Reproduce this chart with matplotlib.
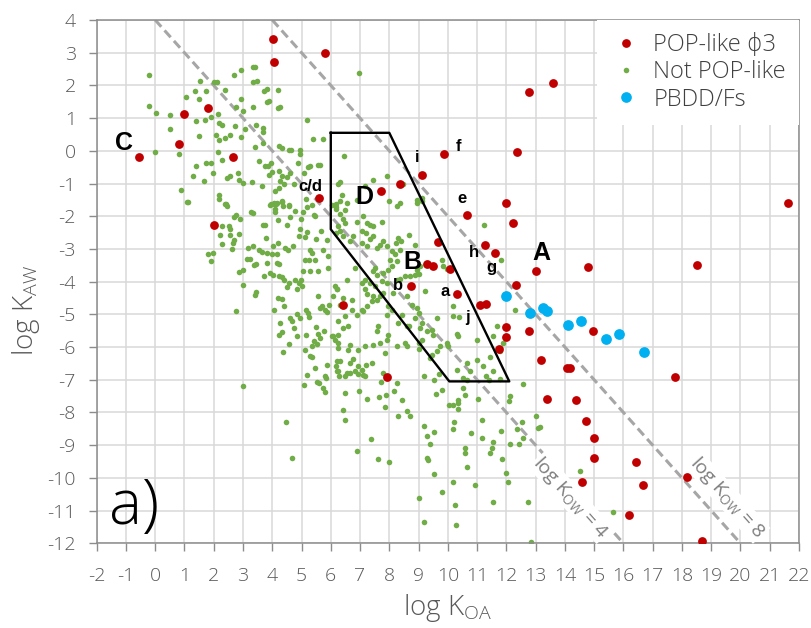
import numpy as np
import matplotlib
matplotlib.use('Agg')
import matplotlib.pyplot as plt
from matplotlib.lines import Line2D

plt.rcParams['font.family'] = ['Open Sans', 'DejaVu Sans']
plt.rcParams['mathtext.fontset'] = 'custom'
plt.rcParams['mathtext.rm'] = 'Open Sans'
plt.rcParams['axes.unicode_minus'] = False

# log KOA, log KAW pairs
not_pop = [
    (-0.22, 2.32), (-0.22, 1.38), (0.04, 1.17), (0.52, 1.08), (0.49, 0.66), (-0.01, -0.03), (0.81, -0.10),
    (1.49, 0.45), (1.04, 1.65), (1.36, 1.83), (1.53, 2.13), (1.50, 1.57), (1.75, 1.83), (1.38, 0.91),
    (1.69, 0.94), (1.92, 1.02), (2.16, 1.12), (2.19, 0.86), (2.28, 0.79), (2.08, 0.47), (2.19, 0.33),
    (2.37, 0.40), (2.56, 0.48), (2.73, 0.76), (2.93, 0.42), (3.08, 0.68), (2.40, 1.86), (2.00, 2.11),
    (2.10, 2.10), (2.69, 2.32), (2.93, 2.47), (3.35, 2.57), (3.42, 2.57), (3.34, 2.10), (3.47, 2.13),
    (3.71, 1.84), (3.81, 1.89), (4.18, 1.86), (3.83, 1.50), (3.89, 1.52), (2.93, 1.59), (2.75, 1.35),
    (3.01, 1.22), (3.34, 1.35), (3.43, 0.79), (3.69, 0.70), (3.67, 0.58), (3.67, 0.24), (3.40, 0.12),
    (4.18, 1.30), (4.28, 1.34), (5.18, 0.94), (5.38, 0.37), (5.74, 0.37), (2.16, -0.03), (2.27, -0.28),
    (1.74, -0.37), (1.90, -0.37), (1.39, -0.47), (1.30, -0.77), (1.67, -0.92), (1.97, -0.69), (2.44, -0.84),
    (2.57, -0.77), (2.83, -0.69), (2.85, -0.88), (3.00, -0.97), (3.31, -0.95), (3.64, -1.07), (3.55, -0.31),
    (3.75, -0.46), (3.87, -0.47), (3.95, -0.37), (3.99, -0.64), (3.90, -0.73), (4.22, -0.63), (4.33, 0.10),
    (4.24, 0.16), (4.57, 0.02), (4.64, 0.02), (4.96, 0.02), (4.94, -0.10), (4.35, -0.77), (4.49, -0.80),
    (4.27, -0.93), (4.41, -1.00), (4.61, -0.69), (4.89, -0.37), (5.21, -0.49), (5.29, -0.47), (5.55, -0.42),
    (5.63, -0.42), (5.07, -0.69), (4.74, -1.00), (4.24, -1.13), (4.09, -1.22), (0.87, -1.20), (1.11, -1.58),
    (2.19, -1.34), (2.19, -1.46), (2.42, -1.64), (3.93, -1.66), (4.07, -1.64), (4.17, -1.61), (4.35, -1.54),
    (4.58, -1.69), (5.15, -1.46), (5.37, -1.66), (6.03, -1.66), (6.26, -1.00),
    (1.10, -1.57), (2.38, -1.64), (2.44, -1.69), (2.75, -1.95), (2.70, -2.02), (2.89, -2.10), (2.28, -2.31),
    (2.51, -2.31), (2.54, -2.39), (2.21, -2.56), (2.57, -2.56), (2.86, -2.54), (2.70, -2.73), (2.67, -2.82),
    (2.29, -2.85), (2.62, -3.00), (1.82, -3.17), (1.97, -3.13), (1.90, -3.36), (3.27, -1.88), (3.34, -1.90),
    (3.67, -2.26), (3.74, -2.27), (3.80, -2.68), (4.02, -2.92), (4.19, -2.82), (3.96, -1.64), (4.05, -1.59),
    (4.14, -1.64), (4.09, -1.78), (4.10, -1.88), (4.32, -1.57), (4.38, -1.69), (4.57, -1.67), (4.61, -2.02),
    (4.49, -2.26), (4.21, -2.12), (4.77, -1.83), (5.04, -1.87), (5.20, -1.71), (5.43, -1.95), (5.47, -1.98),
    (4.97, -2.07), (4.94, -2.39), (4.93, -2.59), (5.19, -2.47), (5.12, -2.63), (4.44, -2.97), (4.53, -3.04),
    (4.72, -2.92), (5.29, -3.04), (5.35, -3.12), (5.12, -3.33), (5.27, -3.35), (5.46, -3.33), (5.65, -2.46),
    (5.88, -2.73), (5.49, -2.71), (5.74, -3.02), (5.89, -3.22), (5.90, -3.58), (5.55, -3.66), (5.29, -3.68),
    (5.06, -3.68), (4.98, -3.94), (4.92, -4.04), (5.00, -4.14), (4.78, -3.96), (4.83, -4.24), (4.58, -4.04),
    (4.49, -4.16), (4.34, -3.86), (4.23, -3.82), (4.40, -3.94), (3.92, -3.73), (4.01, -3.79), (3.71, -3.82),
    (4.17, -3.43), (4.23, -3.46), (3.81, -3.43), (3.44, -4.33), (3.41, -4.42), (2.99, -4.09), (2.85, -3.71),
    (3.01, -3.63), (3.13, -3.30), (3.24, -3.30), (3.44, -3.45), (3.39, -3.50), (3.18, -2.97), (3.35, -2.92),
    (3.55, -3.02), (3.64, -3.10), (3.81, -3.12), (3.98, -3.17), (4.15, -3.15), (2.76, -4.91), (4.07, -4.88),
    (4.20, -4.50), (4.32, -4.53), (4.40, -4.76), (4.26, -5.27), (4.61, -5.11), (4.66, -5.21), (4.83, -4.98),
    (4.94, -5.11), (4.74, -5.42), (4.24, -5.62), (4.32, -5.55), (4.58, -5.91), (4.38, -6.16), (4.85, -5.67),
    (5.15, -5.64), (5.23, -4.96), (5.26, -5.08), (5.17, -4.86), (5.57, -4.45), (5.69, -4.73), (5.80, -4.86),
    (5.95, -4.70), (5.63, -4.81), (5.88, -4.93), (5.49, -5.39), (5.76, -5.52), (5.58, -5.59), (5.63, -5.72),
    (6.03, -5.67), (6.26, -5.62), (6.20, -4.24), (5.43, -5.83), (5.52, -5.90), (5.35, -5.98), (5.12, -6.10),
    (5.29, -6.27), (5.35, -6.31), (5.86, -6.56), (5.18, -6.87), (5.46, -6.64), (6.20, -6.44), (5.80, -6.90),
    (3.01, -7.18), (4.47, -8.30), (4.66, -9.39), (5.08, -7.15), (5.52, -7.07), (5.61, -7.10), (5.74, -7.26),
    (5.80, -7.36), (5.82, -6.95), (6.26, -6.74),
    (6.48, -1.80), (6.18, -1.78), (6.31, -1.92), (6.43, -2.10), (6.48, -2.20), (6.88, -2.18), (7.23, -2.22),
    (7.34, -2.26), (7.43, -2.31), (7.74, -2.18), (7.11, -1.98), (7.05, -2.46), (7.20, -2.51), (7.34, -2.71),
    (7.45, -2.61), (7.23, -2.92), (7.05, -2.82), (6.66, -2.77), (6.43, -2.59), (6.18, -2.51), (6.31, -2.46),
    (6.26, -2.31), (6.77, -2.61), (7.57, -2.97), (7.68, -2.87), (7.79, -2.77), (7.91, -2.92), (8.08, -3.07),
    (8.19, -3.17), (8.36, -3.02), (8.31, -2.66), (8.39, -2.77), (8.22, -2.82), (8.67, -2.56), (8.88, -2.87),
    (8.02, -3.33), (8.25, -3.38), (8.08, -3.53), (7.51, -3.58), (7.45, -3.68), (7.57, -3.79), (7.79, -3.73),
    (7.96, -3.63), (6.83, -3.58), (6.54, -3.94), (7.17, -3.94), (7.05, -4.04), (7.34, -4.04), (7.51, -4.12),
    (7.74, -3.99), (7.91, -4.04), (8.25, -3.94), (8.36, -3.92), (8.54, -3.84), (8.71, -3.82), (8.88, -3.79),
    (9.00, -3.76), (8.94, -3.63), (9.05, -3.51), (9.84, -3.53), (9.98, -3.61), (9.79, -3.33), (9.22, -4.30),
    (8.76, -4.70), (8.93, -4.81), (9.00, -4.96), (8.88, -5.11), (8.42, -5.01), (8.31, -5.27), (8.62, -5.35),
    (8.68, -5.37), (9.11, -5.27), (9.05, -5.42), (9.28, -5.52), (9.45, -5.47), (9.51, -5.62), (9.62, -5.11),
    (10.19, -4.76), (10.17, -5.06), (10.38, -5.08), (10.33, -5.60), (9.98, -5.88), (10.01, -5.98), (9.73, -5.98),
    (9.62, -6.13), (9.45, -6.23), (9.39, -6.34), (9.00, -6.06), (9.03, -5.88), (9.11, -5.78), (8.54, -5.88),
    (8.59, -5.98), (8.25, -5.98), (7.85, -6.18), (7.96, -5.62), (7.93, -5.78), (7.62, -5.35), (7.57, -5.52),
    (7.68, -5.88), (7.45, -5.93), (7.17, -5.98), (6.94, -6.08), (6.66, -5.93), (6.60, -6.08), (6.77, -6.37),
    (6.66, -6.49), (6.94, -6.59), (7.05, -6.69), (7.20, -6.56), (7.40, -6.49), (6.31, -6.44), (6.18, -6.59),
    (6.54, -6.80), (6.48, -6.90), (6.26, -5.88), (6.26, -6.03), (6.09, -5.67), (6.14, -5.78), (6.43, -5.42),
    (6.60, -5.35), (6.26, -5.21), (6.48, -5.06), (6.88, -5.01), (7.05, -4.86), (6.71, -4.55), (6.43, -4.50),
    (6.20, -4.24), (6.14, -4.14), (6.09, -4.45), (6.31, -4.70), (6.37, -4.76), (6.71, -4.86), (7.45, -4.45),
    (7.40, -4.60), (7.23, -4.76), (7.11, -4.91), (7.17, -4.24), (7.23, -4.37), (7.68, -4.45), (7.79, -4.35),
    (7.96, -4.76), (8.08, -4.86), (7.91, -5.01), (7.57, -4.55), (8.14, -4.35), (8.59, -4.45), (11.67, -5.37),
    (11.80, -3.33), (11.22, -2.26), (10.36, -5.65), (10.99, -5.78), (11.56, -5.67), (12.29, -4.86),
    (8.25, -1.69), (8.36, -1.59), (8.94, -1.59), (9.11, -1.54), (6.18, -1.64), (6.31, -1.54), (6.54, -1.61),
    (11.89, -5.88), (11.78, -6.13), (11.44, -6.29), (11.21, -6.59), (10.99, -6.39), (10.65, -6.49), (10.76, -6.74),
    (6.98, 2.39), (6.45, -0.16), (6.31, -0.95), (6.39, -1.36), (6.18, -1.73), (7.43, -0.88), (7.91, -0.77),
    (7.17, -1.08), (8.00, -1.53), (8.48, -1.00), (8.96, -1.49), (9.11, -1.43), (6.88, -1.51),
    (6.20, -6.74), (6.29, -6.90), (6.66, -6.80), (6.83, -6.74), (6.94, -6.82), (7.11, -6.85), (7.17, -6.90),
    (7.79, -6.80), (7.71, -7.08), (8.25, -7.10), (6.48, -7.39), (6.98, -7.33), (7.25, -7.58), (7.66, -7.53),
    (7.87, -7.46), (8.17, -7.33), (8.42, -7.63), (7.85, -7.84), (8.31, -8.12), (8.59, -7.97), (8.71, -8.10),
    (6.43, -7.92), (6.48, -8.24), (7.36, -8.82), (6.91, -9.19), (7.60, -9.43), (7.99, -9.53), (9.19, -6.88),
    (9.53, -7.00), (9.70, -6.82), (10.33, -6.69), (9.58, -7.43), (9.79, -7.31), (9.19, -8.41), (9.28, -8.73),
    (9.39, -8.96), (9.53, -8.61), (9.30, -9.38), (9.31, -9.45), (9.53, -9.88), (9.00, -10.61), (9.20, -11.34),
    (9.79, -10.44), (10.19, -10.13), (10.24, -10.83), (10.27, -11.44), (10.04, -7.77), (10.19, -7.77),
    (10.36, -7.71), (10.34, -7.89), (10.36, -7.63), (10.51, -7.26), (10.59, -7.47), (10.53, -6.95),
    (10.64, -7.00), (10.22, -8.30), (10.16, -8.51), (10.79, -8.63), (10.59, -9.09), (10.59, -9.24),
    (10.64, -9.67), (10.93, -10.21), (11.03, -7.59), (11.16, -8.22), (11.18, -8.79), (11.30, -6.88),
    (11.42, -7.00), (11.53, -6.74), (11.78, -6.98), (11.55, -8.89), (11.51, -9.09), (11.44, -9.24),
    (11.80, -8.56), (11.86, -9.42), (11.99, -9.84), (12.04, -10.13), (11.55, -10.73), (12.12, -7.49),
    (12.09, -7.64), (12.56, -7.13), (12.14, -8.96), (12.44, -8.97), (12.35, -8.51), (12.58, -8.79),
    (12.52, -8.30), (13.00, -8.12), (13.09, -8.48), (13.15, -8.46), (13.43, -9.47), (12.75, -10.75),
    (12.84, -11.95), (14.50, -9.80), (15.66, -11.04),
]

pop_like = [
    (4.01, 3.42), (5.79, 2.99), (4.07, 2.71), (0.99, 1.13), (1.81, 1.32), (0.82, 0.21), (-0.56, -0.18),
    (2.67, -0.18), (5.61, -1.45), (2.01, -2.27), (12.76, 1.81), (13.59, 2.06), (9.88, -0.10), (12.35, -0.05),
    (9.12, -0.74), (8.37, -1.00), (7.72, -1.23), (12.00, -1.60), (10.65, -1.95), (12.24, -2.20), (9.65, -2.79),
    (11.28, -2.89), (11.60, -3.13), (9.30, -3.47), (9.50, -3.52), (10.07, -3.62), (13.00, -3.68), (12.33, -4.10),
    (8.74, -4.13), (10.32, -4.39), (11.10, -4.72), (11.30, -4.68), (6.43, -4.72), (12.00, -5.40), (12.00, -5.68),
    (12.76, -5.52), (11.75, -6.05), (13.20, -6.39), (14.08, -6.65), (14.18, -6.65), (7.91, -6.93), (14.79, -3.55),
    (18.52, -3.50), (21.63, -1.60), (14.96, -5.52), (17.76, -6.91), (13.38, -7.59), (14.38, -7.62), (14.72, -8.26),
    (15.00, -8.79), (14.99, -9.39), (16.42, -9.53), (16.68, -10.23), (18.16, -9.98), (14.58, -10.14),
    (16.18, -11.13), (18.70, -11.94),
]

pbdd_fs = [
    (12.00, -4.43), (12.80, -4.97), (13.24, -4.80), (13.38, -4.90), (14.12, -5.34), (14.56, -5.20),
    (15.42, -5.76), (15.86, -5.60), (16.69, -6.16),
]

# region D outline
region_d = [(6.0, 0.55), (8.0, 0.55), (12.1, -7.05), (10.05, -7.05), (6.0, -2.4), (6.0, 0.55)]

# log KOW isolines: log KAW = log KOW - log KOA
kow_lines = [4, 8]

big_labels = [('C', -1.05, 0.25), ('D', 7.15, -1.42), ('B', 8.8, -3.4), ('A', 13.2, -3.12)]
small_labels = [('c/d', 5.3, -1.08), ('i', 8.95, -0.22), ('f', 10.35, 0.12), ('e', 10.5, -1.47),
                ('h', 10.9, -3.12), ('g', 11.5, -3.58), ('b', 8.3, -4.13), ('a', 9.9, -4.3), ('j', 10.66, -5.1)]

GREEN = '#70AD47'
RED = '#C00000'
BLUE = '#00B0F0'
TXT = '#595959'

fig = plt.figure(figsize=(8.11, 6.28), dpi=100)
ax = fig.add_axes([0.1192, 0.1349, 0.8660, 0.8333])

ax.set_xlim(-2, 22)
ax.set_ylim(-12, 4)
ax.set_xticks(np.arange(-2, 23, 1))
ax.set_yticks(np.arange(-12, 5, 1))
ax.grid(True, color='#D9D9D9', lw=1.1, zorder=0)
ax.set_axisbelow(True)

for sp in ax.spines.values():
    sp.set_color('#8C8C8C')
    sp.set_linewidth(1.1)
ax.tick_params(direction='out', length=6, width=1, color='#8C8C8C',
               labelsize=14, labelcolor=TXT)
ax.tick_params(axis='x', pad=11)
ax.tick_params(axis='y', pad=9)
for lab in ax.get_xticklabels() + ax.get_yticklabels():
    lab.set_fontweight('light')

xs = np.linspace(-2, 22, 50)
for k in kow_lines:
    ax.plot(xs, k - xs, ls=(0, (3, 1.6)), color='#A6A6A6', lw=2.2, zorder=1)

g = np.array(not_pop)
r = np.array(pop_like)
b = np.array(pbdd_fs)
ax.scatter(g[:, 0], g[:, 1], s=16, color=GREEN, lw=0, zorder=2)
ax.scatter(r[:, 0], r[:, 1], s=40, color=RED, lw=0, zorder=3)
ax.scatter(b[:, 0], b[:, 1], s=60, color=BLUE, lw=0, zorder=4)

poly = np.array(region_d)
ax.plot(poly[:, 0], poly[:, 1], color='black', lw=1.7, zorder=5)

for t, x, y in big_labels:
    ax.text(x, y, t, fontsize=18, fontweight='bold', family='Liberation Sans',
            ha='center', va='center', zorder=6)
for t, x, y in small_labels:
    ax.text(x, y, t, fontsize=12, fontweight='bold', family='Liberation Sans',
            ha='center', va='center', zorder=6)

# rotated isoline labels sitting on white patches
ang = -np.degrees(np.arctan((32.7) / (29.26)))
ax.text(14.2, -10.6, r'log K$_\mathregular{OW}$ = 4', rotation=ang, rotation_mode='anchor',
        ha='center', va='center', fontsize=14, color='#7F7F7F', zorder=6,
        bbox=dict(facecolor='white', edgecolor='none', pad=0.5))
ax.text(19.55, -10.6, r'log K$_\mathregular{OW}$ = 8', rotation=ang, rotation_mode='anchor',
        ha='center', va='center', fontsize=14, color='#7F7F7F', zorder=6,
        bbox=dict(facecolor='white', edgecolor='none', pad=0.5))

ax.text(-0.72, -10.9, 'a)', fontsize=45, fontweight='light', ha='center', va='center', zorder=6)

ax.set_xlabel(r'log K$_\mathregular{OA}$', fontsize=20, color=TXT, fontweight='light')
ax.set_ylabel(r'log K$_\mathregular{AW}$', fontsize=20, color=TXT, fontweight='light')
ax.xaxis.set_label_coords(0.50, -0.094)
ax.yaxis.set_label_coords(-0.078, 0.445)

handles = [
    Line2D([], [], ls='none', marker='o', ms=6.3, mfc=RED, mec='none', label='POP-like ϕ3'),
    Line2D([], [], ls='none', marker='o', ms=4, mfc=GREEN, mec='none', label='Not POP-like'),
    Line2D([], [], ls='none', marker='o', ms=7.7, mfc=BLUE, mec='none', label='PBDD/Fs'),
]
leg = ax.legend(handles=handles, loc='upper right', fontsize=17, frameon=True, framealpha=1,
                edgecolor='none', fancybox=False, handletextpad=0.45, labelspacing=0.14,
                borderpad=0.55, handlelength=1.4, borderaxespad=0.0)
for t in leg.get_texts():
    t.set_color('#404040')
    t.set_fontweight('light')
leg.set_zorder(7)

fig.savefig('out.png', dpi=100)
